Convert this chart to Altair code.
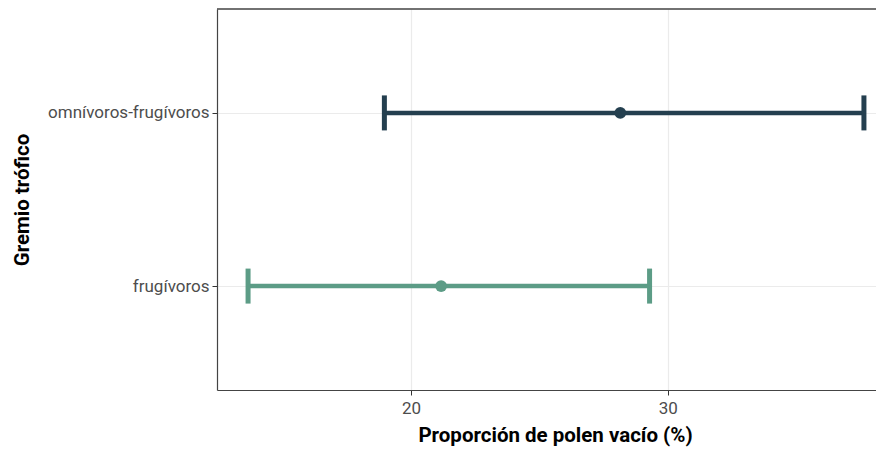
import altair as alt
import pandas as pd

groups = ["omnívoros-frugívoros", "frugívoros"]
means = [28.15, 21.17]
lower = [18.96, 13.65]
upper = [37.64, 29.29]
colors = ["#243F4F", "#5C9C86"]
x_ticks = [20, 30]

df = pd.DataFrame({"group": groups, "mean": means, "lower": lower, "upper": upper})

W, H = 659, 381
xscale = alt.Scale(domain=[12.44, 38.11], nice=False, zero=False)
yenc = alt.Y("group:N", sort=groups, scale=alt.Scale(type="point", padding=0.6),
             title="Gremio trófico",
             axis=alt.Axis(labelFont="Roboto", labelFontSize=17, labelColor="#4D4D4D",
                           titleFont="Roboto", titleFontSize=20.5, titleFontWeight="bold",
                           titleColor="#000000", titlePadding=15,
                           tickColor="#333333", tickSize=5, labelPadding=3,
                           domainColor="#444444", domainWidth=1.2,
                           grid=True, gridColor="#EBEBEB", gridWidth=1.2))
xenc_axis = alt.Axis(values=x_ticks, labelFont="Roboto", labelFontSize=17, labelColor="#4D4D4D",
                     titleFont="Roboto", titleFontSize=20.5, titleFontWeight="bold",
                     titleColor="#000000", titlePadding=9, titleX=338,
                     tickColor="#333333", tickSize=5, labelPadding=5,
                     domainColor="#444444", domainWidth=1.2,
                     grid=True, gridColor="#EBEBEB", gridWidth=1.2)
color = alt.Color("group:N", scale=alt.Scale(domain=groups, range=colors), legend=None)

base = alt.Chart(df)
rule = base.mark_rule(strokeWidth=4.5).encode(
    x=alt.X("lower:Q", scale=xscale, axis=xenc_axis, title="Proporción de polen vacío (%)"),
    x2="upper:Q", y=yenc, color=color)
cap_lo = base.mark_tick(size=35, thickness=5, opacity=1).encode(
    x=alt.X("lower:Q", scale=xscale), y=alt.Y("group:N", sort=groups), color=color)
cap_hi = base.mark_tick(size=35, thickness=5, opacity=1).encode(
    x=alt.X("upper:Q", scale=xscale), y=alt.Y("group:N", sort=groups), color=color)
pts = base.mark_circle(size=140, opacity=1).encode(
    x=alt.X("mean:Q", scale=xscale), y=alt.Y("group:N", sort=groups), color=color)
top = alt.Chart(df).mark_rule(color="#444444", strokeWidth=1.2).encode(
    x=alt.value(0), x2=alt.value(W), y=alt.value(0))

chart = alt.layer(rule, cap_lo, cap_hi, pts, top).properties(
    width=W, height=H,
    autosize=alt.AutoSizeParams(type="none"),
    padding={"left": 209, "top": 1, "right": 0, "bottom": 59},
).configure_view(stroke=None)

chart.save("out.html", embed_options={"renderer": "svg", "actions": False})
